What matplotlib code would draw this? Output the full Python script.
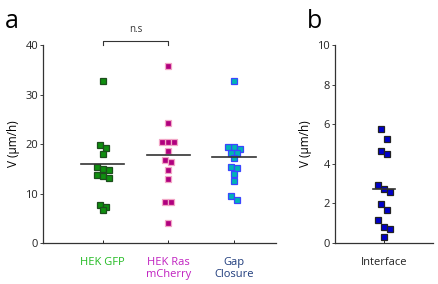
import matplotlib
matplotlib.use('Agg')
import matplotlib.pyplot as plt
import numpy as np

plt.rcParams['font.family'] = ['Open Sans', 'DejaVu Sans']

# panel a data
cats_a = ['HEK GFP', 'HEK Ras\nmCherry', 'Gap\nClosure']
gfp = [32.7, 19.9, 19.2, 17.9, 15.3, 15.0, 14.7, 13.8, 13.5, 13.2, 7.7, 7.2, 6.7]
ras = [35.8, 24.3, 20.5, 20.5, 20.5, 18.5, 16.8, 16.3, 14.7, 13.0, 8.3, 8.2, 4.0]
gap = [32.7, 19.3, 19.3, 18.9, 18.1, 18.1, 17.1, 15.4, 15.1, 13.9, 12.5, 9.4, 8.6]
means_a = [15.9, 17.7, 17.4]

# panel b data
cats_b = ['Interface']
interface = [5.74, 5.24, 4.66, 4.49, 2.91, 2.71, 2.56, 1.99, 1.65, 1.16, 0.82, 0.71, 0.32]
means_b = [2.73]

face_a = ['#0f8f0f', '#b0007e', '#00b5b5']
edge_a = ['#1d4d1d', '#f2a6c6', '#3a46ff']
lab_col = ['#22bb22', '#c020c0', '#1f3c7c']


def spread(vals, thr, step):
    # group values that lie close together, spread each group sideways
    order = np.argsort(vals)[::-1]
    off = np.zeros(len(vals))
    groups = []
    for i in order:
        if groups and vals[groups[-1][0]] - vals[i] <= thr:
            groups[-1].append(i)
        else:
            groups.append([i])
    for g in groups:
        n = len(g)
        for k, i in enumerate(g):
            off[i] = (k - (n - 1) / 2) * step
    return off


fig = plt.figure(figsize=(4.38, 2.84), dpi=100)
axa = fig.add_axes([0.0982, 0.1444, 0.532, 0.697])
axb = fig.add_axes([0.765, 0.1444, 0.2236, 0.697])

for ax in (axa, axb):
    for s in ['top', 'right']:
        ax.spines[s].set_visible(False)
    for s in ['left', 'bottom']:
        ax.spines[s].set_color('#333333')
        ax.spines[s].set_linewidth(0.9)
    ax.tick_params(axis='y', direction='out', length=2, width=0.6, pad=1.5,
                   labelsize=8, colors='#222222')
    ax.tick_params(axis='x', direction='in', length=2, width=0.6, pad=10,
                   labelsize=8)
    ax.set_ylabel('V (\u03bcm/h)', fontsize=8.5, labelpad=4)

# panel a
for i, vals in enumerate([gfp, ras, gap]):
    v = np.array(vals)
    x = i + 1 + spread(v, 0.85, 0.091)
    axa.plot(x, v, 's', ms=3.8, mfc=face_a[i], mec=edge_a[i], mew=0.9, ls='none')
    axa.plot([i + 1 - 0.33, i + 1 + 0.33], [means_a[i], means_a[i]],
             color='#333333', lw=1.2)
axa.set_xlim(0.09, 3.64)
axa.set_ylim(0, 40)
axa.set_yticks([0, 10, 20, 30, 40])
axa.set_xticks([1, 2, 3])
axa.set_xticklabels(cats_a, linespacing=1.1)
for t, c in zip(axa.get_xticklabels(), lab_col):
    t.set_color(c)

# n.s bracket
axa.plot([1, 1, 2, 2], [40.1, 40.8, 40.8, 40.1], color='#333333', lw=0.8, clip_on=False)
axa.text(1.5, 42.0, 'n.s', ha='center', va='bottom', fontsize=7, color='#333333')

# panel b
v = np.array(interface)
x = 1 + spread(v, 0.55, 0.061)
axb.plot(x, v, 's', ms=3.8, mfc='#0000cc', mec='#222222', mew=0.9, ls='none')
axb.plot([1 - 0.11, 1 + 0.11], [means_b[0], means_b[0]], color='#333333', lw=1.2)
axb.set_xlim(0.5, 1.5)
axb.set_ylim(0, 10)
axb.set_yticks([0, 2, 4, 6, 8, 10])
axb.set_xticks([1])
axb.set_xticklabels(cats_b, color='#222222')

fig.text(0.012, 0.9, 'a', fontsize=18)
fig.text(0.70, 0.9, 'b', fontsize=18)

fig.savefig('out.png', dpi=100)
